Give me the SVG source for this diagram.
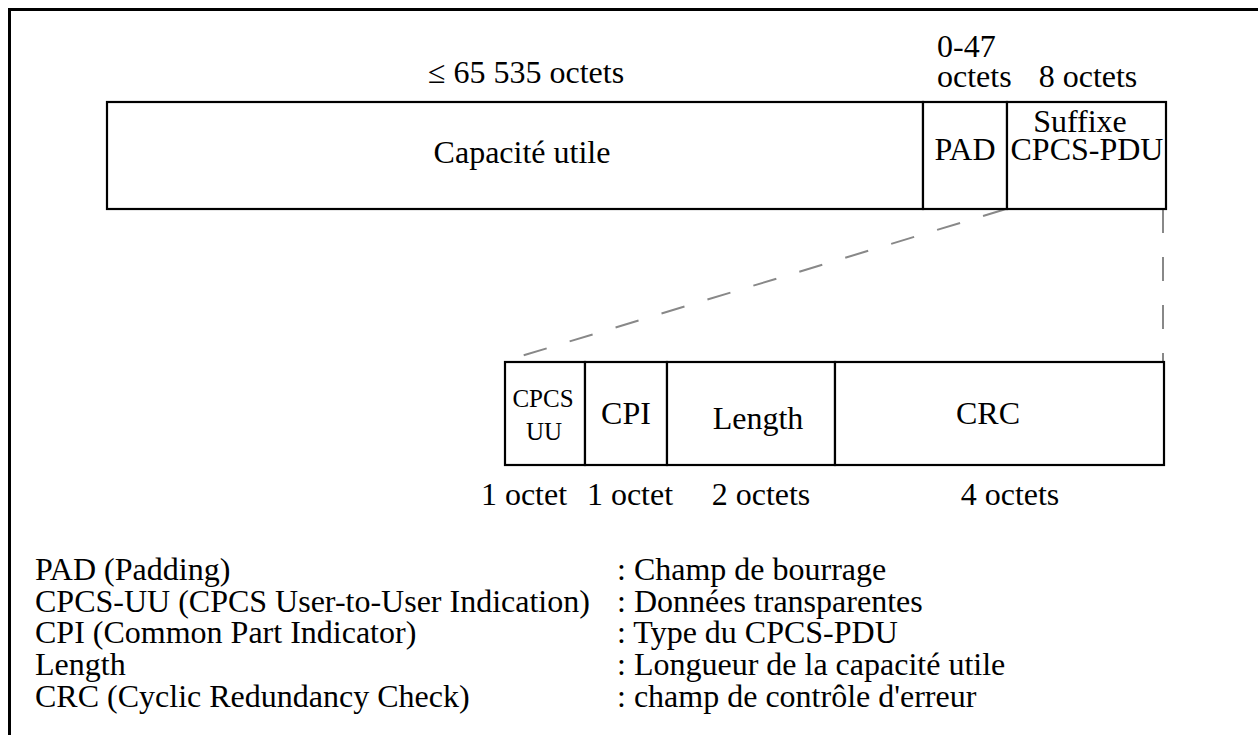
<svg xmlns="http://www.w3.org/2000/svg" width="1258" height="735" viewBox="0 0 1258 735">
<style>
text { font-family: "Liberation Serif", "Times New Roman", serif; fill: #000; }
.t { font-size: 32px; }
.m { text-anchor: middle; }
.s { font-size: 25px; }
.box { fill: #fff; stroke: #000; stroke-width: 2.2; }
.dash { stroke: #888; stroke-width: 2; stroke-dasharray: 24 24; fill: none; }
.frame { stroke: #000; stroke-width: 3; fill: none; }
</style>
<rect width="1258" height="735" fill="#fff"/>
<g id="frame">
  <polyline class="frame" points="9.5,735 9.5,9.5 1258,9.5"/>
</g>
<g id="connectors">
  <line class="dash" x1="1006" y1="209" x2="505" y2="361"/>
  <line class="dash" x1="1163" y1="209" x2="1163" y2="362"/>
</g>
<g id="top-labels">
  <text class="t m" x="526" y="83">≤ 65 535 octets</text>
  <text class="t" x="937" y="57">0-47</text>
  <text class="t" x="937" y="87">octets</text>
  <text class="t m" x="1088" y="87">8 octets</text>
</g>
<g id="payload">
  <rect class="box" x="107" y="102" width="816" height="107"/>
  <text class="t m" x="522" y="163">Capacité utile</text>
</g>
<g id="pad">
  <rect class="box" x="923" y="102" width="84" height="107"/>
  <text class="t m" x="965" y="160">PAD</text>
</g>
<g id="suffix">
  <rect class="box" x="1007" y="102" width="159" height="107"/>
  <text class="t m" x="1080" y="132">Suffixe</text>
  <text class="t m" x="1087" y="160">CPCS-PDU</text>
</g>
<g id="cpcs-uu">
  <rect class="box" x="505" y="362" width="80" height="103"/>
  <text class="s m" x="543" y="407">CPCS</text>
  <text class="s m" x="544" y="440">UU</text>
</g>
<g id="cpi">
  <rect class="box" x="585" y="362" width="82" height="103"/>
  <text class="t m" x="626" y="424">CPI</text>
</g>
<g id="length">
  <rect class="box" x="667" y="362" width="168" height="103"/>
  <text class="t m" x="758" y="429">Length</text>
</g>
<g id="crc">
  <rect class="box" x="835" y="362" width="329" height="103"/>
  <text class="t m" x="988" y="424">CRC</text>
</g>
<g id="sizes">
  <text class="t m" x="524" y="505">1 octet</text>
  <text class="t m" x="630" y="505">1 octet</text>
  <text class="t m" x="761" y="505">2 octets</text>
  <text class="t m" x="1010" y="505">4 octets</text>
</g>
<g id="legend">
  <text class="t" x="35" y="580">PAD (Padding)</text>
  <text class="t" x="35" y="612">CPCS-UU (CPCS User-to-User Indication)</text>
  <text class="t" x="35" y="643">CPI (Common Part Indicator)</text>
  <text class="t" x="35" y="675">Length</text>
  <text class="t" x="35" y="707">CRC (Cyclic Redundancy Check)</text>
  <text class="t" x="617" y="580">: Champ de bourrage</text>
  <text class="t" x="617" y="612">: Données transparentes</text>
  <text class="t" x="617" y="643">: Type du CPCS-PDU</text>
  <text class="t" x="617" y="675">: Longueur de la capacité utile</text>
  <text class="t" x="617" y="707">: champ de contrôle d'erreur</text>
</g>
</svg>
